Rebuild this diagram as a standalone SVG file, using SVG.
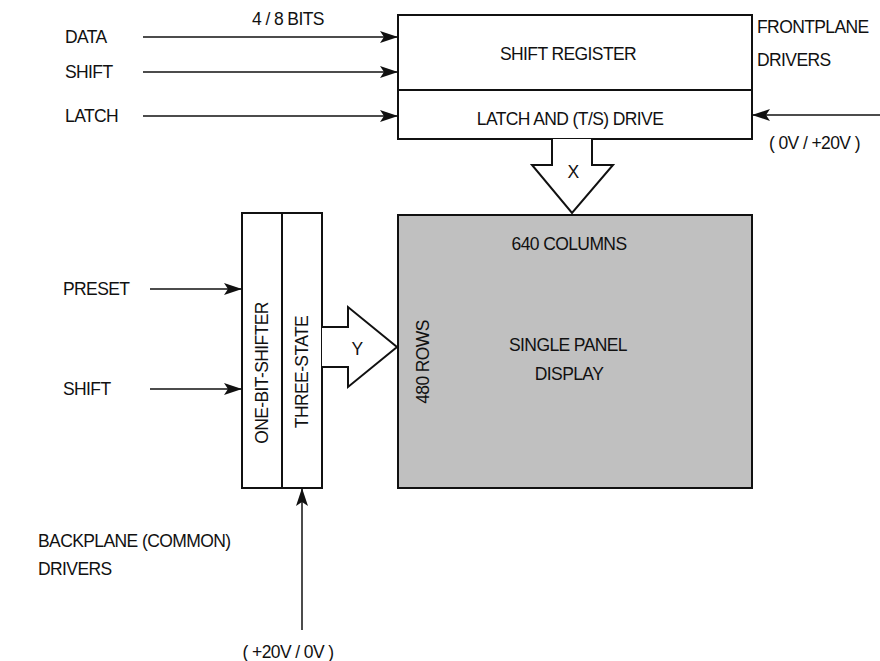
<svg xmlns="http://www.w3.org/2000/svg" width="880" height="661" viewBox="0 0 880 661">
<defs>
<style>
text{font-family:"Liberation Sans",Arial,sans-serif;font-size:17.5px;letter-spacing:-0.6px;fill:#111}
.c{text-anchor:middle}
.box{fill:#fff;stroke:#111;stroke-width:2}
.wire{stroke:#111;stroke-width:1.5;fill:none}
.big{fill:#fff;stroke:#111;stroke-width:2;stroke-linejoin:miter}
</style>
<marker id="ah" markerUnits="userSpaceOnUse" markerWidth="20" markerHeight="14" refX="18" refY="7" orient="auto">
<path d="M0,1 L18,7 L0,13 L4,7 Z" fill="#111"/>
</marker>
</defs>
<rect width="880" height="661" fill="#fff"/>

<g id="labels">
<text x="65" y="43">DATA</text>
<text x="65" y="78">SHIFT</text>
<text x="65" y="122">LATCH</text>
<text x="252" y="25">4 / 8 BITS</text>
<text x="757" y="33">FRONTPLANE</text>
<text x="757" y="66">DRIVERS</text>
<text x="769" y="149">( 0V / +20V )</text>
<text x="63" y="295">PRESET</text>
<text x="63" y="395">SHIFT</text>
<text x="38" y="547">BACKPLANE (COMMON)</text>
<text x="38" y="575">DRIVERS</text>
<text class="c" x="288" y="658">( +20V / 0V )</text>
</g>

<g id="shift-register">
<rect class="box" x="398" y="15" width="354" height="75"/>
<text class="c" x="568" y="60">SHIFT REGISTER</text>
</g>
<g id="latch-drive">
<rect class="box" x="398" y="90" width="354" height="49"/>
<text class="c" x="570" y="125">LATCH AND (T/S) DRIVE</text>
</g>

<g id="display">
<rect x="398" y="215" width="354" height="273" fill="#c0c0c0" stroke="#111" stroke-width="2"/>
<text class="c" x="569" y="250">640 COLUMNS</text>
<text class="c" x="568" y="351">SINGLE PANEL</text>
<text class="c" x="569" y="380">DISPLAY</text>
<text class="c" transform="translate(429,362) rotate(-90)">480 ROWS</text>
</g>

<g id="one-bit-shifter">
<rect class="box" x="242" y="213" width="40" height="275"/>
<text class="c" transform="translate(268,373) rotate(-90)">ONE-BIT-SHIFTER</text>
</g>
<g id="three-state">
<rect class="box" x="282" y="213" width="40" height="275"/>
<text class="c" transform="translate(308,372) rotate(-90)">THREE-STATE</text>
</g>

<g id="connectors">
<line class="wire" x1="143" y1="37" x2="398" y2="37" marker-end="url(#ah)"/>
<line class="wire" x1="143" y1="72" x2="398" y2="72" marker-end="url(#ah)"/>
<line class="wire" x1="143" y1="116" x2="398" y2="116" marker-end="url(#ah)"/>
<line class="wire" x1="880" y1="115" x2="752" y2="115" marker-end="url(#ah)"/>
<line class="wire" x1="150" y1="289" x2="242" y2="289" marker-end="url(#ah)"/>
<line class="wire" x1="150" y1="389" x2="242" y2="389" marker-end="url(#ah)"/>
<line class="wire" x1="302" y1="630" x2="302" y2="488" marker-end="url(#ah)"/>
<g id="bus-x">
<path class="big" d="M552,139 L552,165 L532,165 L572,213 L613,165 L592,165 L592,139"/>
<text class="c" x="573" y="178">X</text>
</g>
<g id="bus-y">
<path class="big" d="M322,327 L348,327 L348,307 L397,347 L348,387 L348,367 L322,367"/>
<text class="c" x="357" y="355">Y</text>
</g>
</g>
</svg>
